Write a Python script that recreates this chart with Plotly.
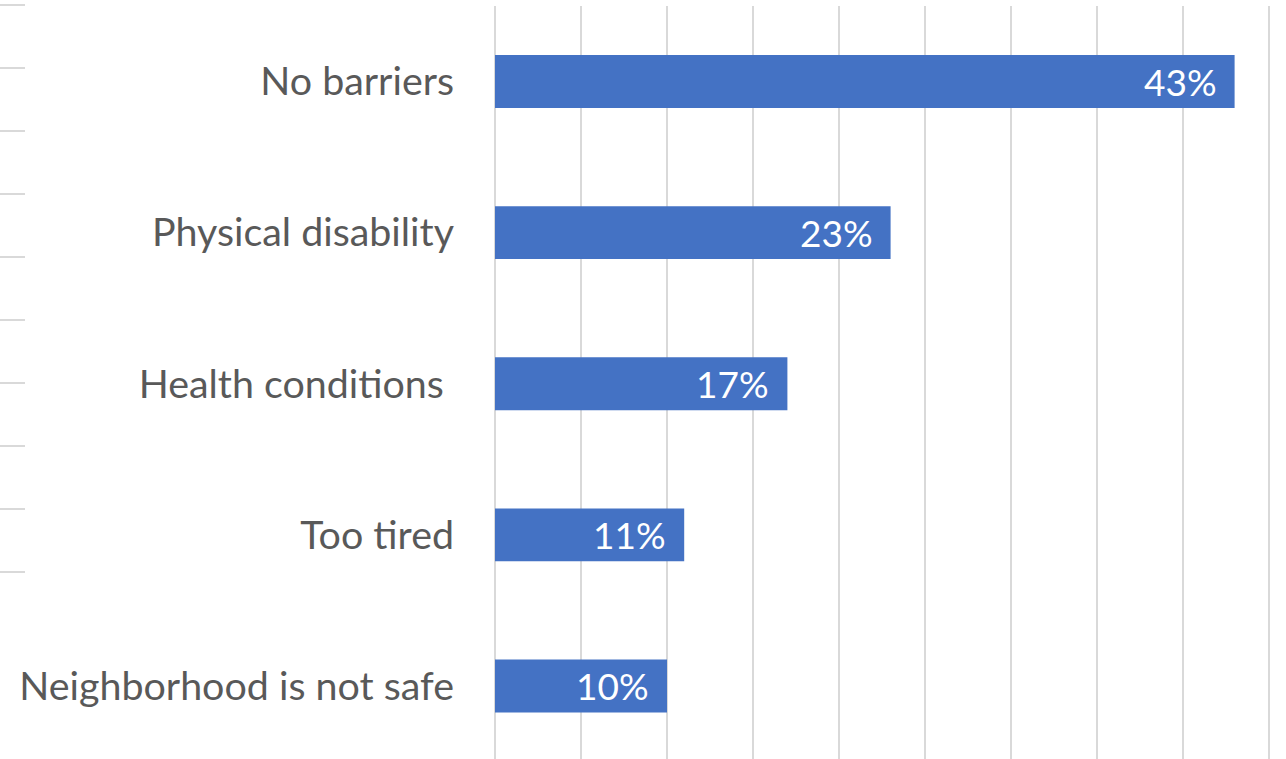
import plotly.graph_objects as go

# Survey responses: reported barriers to physical activity (% of respondents)
categories = ["No barriers", "Physical disability", "Health conditions ", "Too tired", "Neighborhood is not safe"]
values = [43, 23, 17, 11, 10]

BAR_COLOR = "#4472C4"
GRID_COLOR = "#D9D9D9"
TEXT_COLOR = "#595959"
FONT = "Lato, Calibri, Arial, sans-serif"

W, H = 1286, 759
M_L, M_R, M_T, M_B = 495, 8, 6, 0
plot_w = W - M_L - M_R
plot_h = H - M_T - M_B

fig = go.Figure(
    go.Bar(
        x=values,
        y=categories,
        orientation="h",
        marker=dict(color=BAR_COLOR, line=dict(width=0)),
        width=0.35,
        hoverinfo="skip",
    )
)

# value labels just inside the end of each bar
for cat, v in zip(categories, values):
    fig.add_annotation(
        x=v, y=cat, text=f"{v}%", showarrow=False,
        xanchor="right", yanchor="middle", xshift=-16,
        font=dict(family=FONT, size=37, color="white"),
    )

# short grey tick marks along the far-left edge
for i in range(10):
    py = 5 + i * 63
    yp = 1 - (py - M_T) / plot_h
    fig.add_shape(
        type="line", xref="paper", yref="paper",
        x0=(0 - M_L) / plot_w, x1=(25 - M_L) / plot_w, y0=yp, y1=yp,
        line=dict(color=GRID_COLOR, width=2),
    )

fig.update_layout(
    width=W, height=H,
    margin=dict(l=M_L, r=M_R, t=M_T, b=M_B, pad=0),
    paper_bgcolor="white", plot_bgcolor="white",
    showlegend=False,
    bargap=0.65,
    xaxis=dict(
        range=[0, plot_w / 17.2], dtick=5, showgrid=True, gridcolor=GRID_COLOR, gridwidth=1.5,
        zeroline=True, zerolinecolor=GRID_COLOR, zerolinewidth=1.5,
        showticklabels=False, ticks="", showline=False,
    ),
    yaxis=dict(
        range=[4.4835, -0.5], showgrid=False, zeroline=False, showline=False,
        ticks="", ticklabelstandoff=40,
        tickfont=dict(family=FONT, size=39.4, color=TEXT_COLOR),
    ),
)

fig.write_html("out.html")
